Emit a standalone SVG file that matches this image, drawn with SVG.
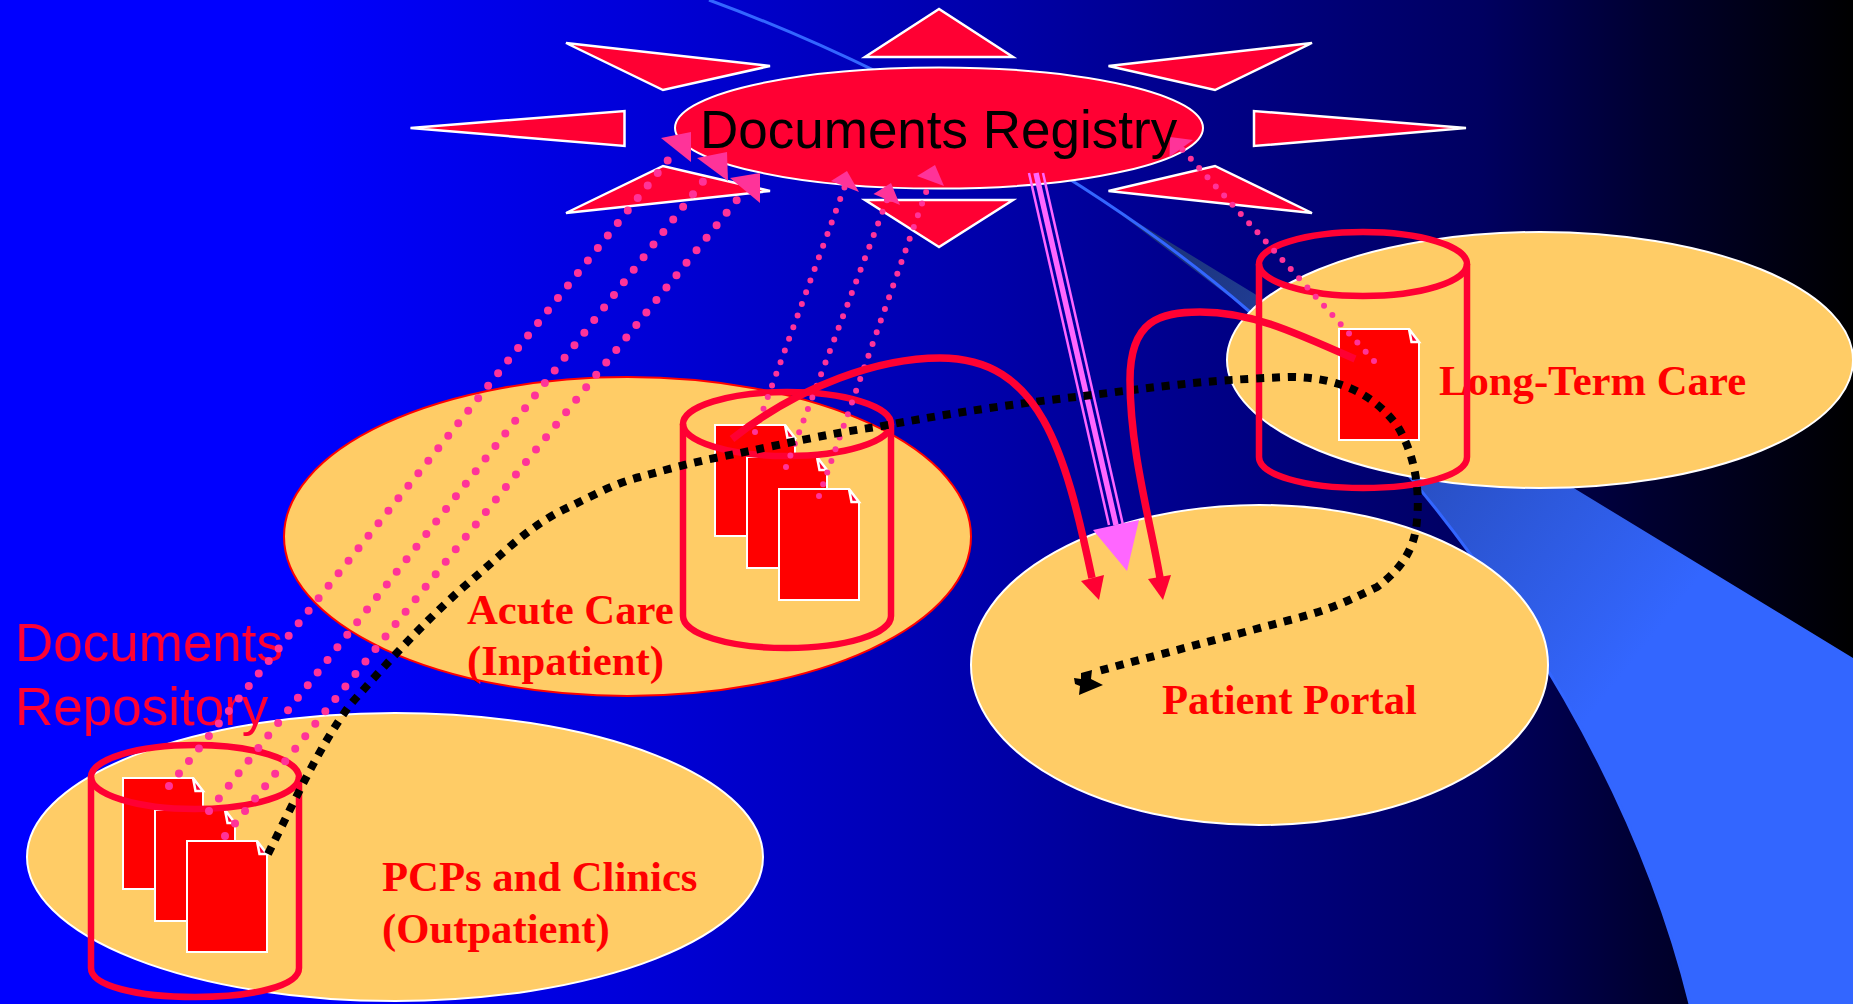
<svg xmlns="http://www.w3.org/2000/svg" xmlns:xlink="http://www.w3.org/1999/xlink" width="1853" height="1004" viewBox="0 0 1853 1004">
<style>
.ray{fill:#ff0033;stroke:#fff;stroke-width:2.5;stroke-linejoin:miter}
.site{fill:#ffcc66;stroke:#fff;stroke-width:2}
.lbl{font-family:"Liberation Serif","Times New Roman",serif;font-weight:bold;font-size:42.7px;fill:#ff0000}
.sans{font-family:"Liberation Sans",Arial,sans-serif;font-size:53px}
.doc{fill:#ff0000;stroke:#fff;stroke-width:2}
.fold{fill:#ff0033;stroke:#fff;stroke-width:2.5}
.cyl{fill:none;stroke:#ff0033;stroke-width:6.5}
.dots{fill:none;stroke:#ff3399;stroke-linecap:round}
.red{fill:none;stroke:#ff0033;stroke-width:7.5}
.black{fill:none;stroke:#000;stroke-width:8;stroke-dasharray:8 7.8}
</style>
<defs>
<linearGradient id="bg" gradientUnits="userSpaceOnUse" x1="0" y1="0" x2="1853" y2="0">
<stop offset="0.16" stop-color="#0000ff"/><stop offset="0.345" stop-color="#0000d8"/><stop offset="0.54" stop-color="#0000a8"/><stop offset="0.65" stop-color="#000088"/><stop offset="0.8" stop-color="#000060"/><stop offset="0.89" stop-color="#000030"/><stop offset="1" stop-color="#000000"/>
</linearGradient>
<linearGradient id="wedge" gradientUnits="userSpaceOnUse" x1="1120" y1="220" x2="1650" y2="640">
<stop offset="0" stop-color="#1a2f70"/><stop offset="1" stop-color="#3366ff"/>
</linearGradient>
<g id="docsheet">
<path class="doc" d="M0,0H70L80,14V111H0Z"/>
<path class="fold" d="M70,0L72.5,13H80Z"/>
</g>
</defs>
<rect width="1853" height="1004" fill="url(#bg)"/>
<path id="swoosh" d="M1107,204L1250,312C1420,460 1620,720 1690,1004L1853,1004L1853,658Z" fill="url(#wedge)"/>
<path d="M709,0C900,70 1110,190 1250,312C1420,460 1620,720 1690,1004" fill="none" stroke="#3366ff" stroke-width="3"/>

<g id="registry">
<polygon class="ray" points="939,9 865,57 1013,57"/>
<polygon class="ray" points="939,247 865,200 1013,200"/>
<polygon class="ray" points="566,43 770,66 663,90"/>
<polygon class="ray" points="1312,43 1108.5,66 1215,90"/>
<polygon class="ray" points="410.5,128 624.5,111 624.5,146"/>
<polygon class="ray" points="1466,128 1254,111 1254,146"/>
<polygon class="ray" points="566,213 770,191 663,166"/>
<polygon class="ray" points="1312,213 1108.5,191 1215,166"/>
<ellipse cx="939" cy="128" rx="264" ry="60.5" fill="#ff0033" stroke="#fff" stroke-width="2"/>
</g>

<g id="long-term-care">
<ellipse class="site" cx="1540" cy="360" rx="313" ry="128"/>
<use xlink:href="#docsheet" href="#docsheet" x="1339" y="329"/>
<text class="lbl" x="1439" y="395">Long-Term Care</text>
<path class="cyl" d="M1259,264V457C1259,475 1305,488 1363,488C1421,488 1467,475 1467,457V264"/>
<ellipse class="cyl" cx="1363" cy="264" rx="104" ry="32"/>
</g>
<g id="patient-portal">
<ellipse class="site" cx="1259.5" cy="665" rx="288.5" ry="160"/>
<text class="lbl" x="1162" y="714">Patient Portal</text>
</g>
<g id="acute-care">
<ellipse class="site" cx="627.5" cy="536.5" rx="343.5" ry="159.5" style="stroke:#ff0000"/>
<use xlink:href="#docsheet" href="#docsheet" x="715" y="425"/>
<use xlink:href="#docsheet" href="#docsheet" x="747" y="457"/>
<use xlink:href="#docsheet" href="#docsheet" x="779" y="489"/>
<text class="lbl" x="467" y="624">Acute Care</text>
<text class="lbl" x="467" y="675">(Inpatient)</text>
<path class="cyl" d="M683,424V616C683,634 729,648 787,648C845,648 891,634 891,616V424"/>
<ellipse class="cyl" cx="787" cy="424" rx="104" ry="32"/>
</g>
<g id="pcp-clinics">
<ellipse class="site" cx="395" cy="857" rx="368" ry="144"/>
<use xlink:href="#docsheet" href="#docsheet" x="123" y="778"/>
<use xlink:href="#docsheet" href="#docsheet" x="155" y="810"/>
<use xlink:href="#docsheet" href="#docsheet" x="187" y="841"/>
<text class="lbl" x="382" y="891">PCPs and Clinics</text>
<text class="lbl" x="382" y="943">(Outpatient)</text>
<path class="cyl" d="M91,777V968C91,986 137,997 195,997C253,997 299,986 299,968V777"/>
<ellipse class="cyl" cx="195" cy="777" rx="104" ry="32"/>
</g>
<g id="repository-label" class="sans" fill="#ff0033">
<text x="15" y="661">Documents</text>
<text x="15" y="725">Repository</text>
</g>

<g id="connectors">
<g class="dots" stroke-width="8" stroke-dasharray="0 16">
<path d="M169,786L676,150"/><path d="M209,811L712,170"/><path d="M225,836L745,190"/>
</g>
<g class="dots" stroke-width="6" stroke-dasharray="0 12.4">
<path d="M755,432L845,186"/><path d="M786,467L887,200"/><path d="M819,496L930,181"/>
<path d="M1374,361L1181,148"/>
</g>
<g fill="#ff3399">
<polygon points="691,132 661,138 691,162"/><polygon points="727,152 697,158 728,181"/><polygon points="760,173 730,178 760,203"/>
<polygon points="847,171 831,181 859,192"/><polygon points="891,183 873.5,194 900,205"/><polygon points="935,165 917,176 944,186"/>
<polygon points="1170,137 1193,140 1169.5,157"/>
</g>
<g fill="none" stroke="#ff66ff">
<path d="M1036,173L1116,525" stroke-width="5.5"/>
<path d="M1029,173L1109,525" stroke-width="2.5"/>
<path d="M1043,173L1123,525" stroke-width="2.5"/>
</g>
<polygon points="1093,530 1139,520 1127,571" fill="#ff66ff"/>
<path class="black" d="M268,854C295,800 320,745 350,705C385,665 430,615 473,579C500,556 530,525 567,508C590,497 615,483 640,477C665,470 690,463 720,457C780,445 830,433 877,427C950,413 1020,403 1084,396C1150,388 1200,380 1290,377C1340,377 1375,395 1398,427C1415,455 1420,490 1417,520C1415,550 1400,570 1377,587C1350,600 1330,610 1290,620L1098,671"/>
<path d="M1079,695L1103,685L1091,679L1092,670L1081,673L1081,679L1074,678L1075,684L1080,686Z" fill="#000"/>
<path class="red" d="M732,439C800,385 880,358 940,358C1040,358 1065,450 1092,578"/>
<polygon points="1081,581 1104,575 1099,600" fill="#ff0033"/>
<path class="red" d="M1355,359C1290,330 1250,312 1200,312C1160,312 1130,320 1130,380C1130,450 1150,520 1160,578"/>
<polygon points="1148,579 1171,575 1163,600" fill="#ff0033"/>
</g>
<text id="registry-label" class="sans" x="700" y="148" fill="#000">Documents Registry</text>
</svg>
